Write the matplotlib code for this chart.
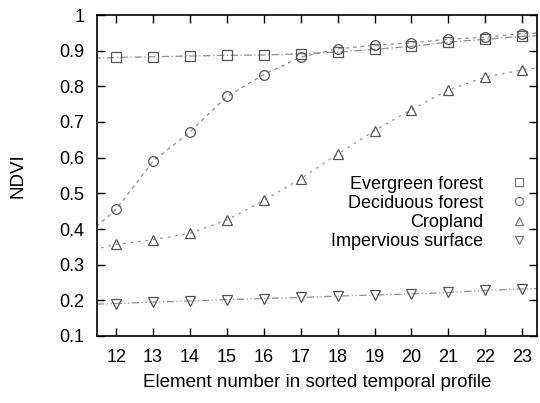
import numpy as np
import matplotlib
matplotlib.use('Agg')
import matplotlib.pyplot as plt

plt.rcParams['font.family'] = ['Liberation Sans', 'DejaVu Sans']

# elemento 11 e 24 solo per la linea che esce dal bordo
elementi = [11, 12, 13, 14, 15, 16, 17, 18, 19, 20, 21, 22, 23, 24]
evergreen = [0.877, 0.881, 0.883, 0.885, 0.887, 0.888, 0.891, 0.896, 0.904, 0.912, 0.924, 0.932, 0.940, 0.944]
deciduous = [0.365, 0.455, 0.590, 0.672, 0.772, 0.833, 0.882, 0.905, 0.915, 0.922, 0.932, 0.938, 0.948, 0.952]
cropland = [0.333, 0.357, 0.370, 0.388, 0.425, 0.480, 0.541, 0.610, 0.676, 0.735, 0.790, 0.826, 0.846, 0.860]
impervious = [0.188, 0.191, 0.195, 0.198, 0.202, 0.205, 0.208, 0.212, 0.215, 0.218, 0.222, 0.228, 0.232, 0.235]

serie = [
    ('Evergreen forest', evergreen, 's', (6, 2, 1, 2)),
    ('Deciduous forest', deciduous, 'o', (3, 3)),
    ('Cropland', cropland, '^', (2, 4)),
    ('Impervious surface', impervious, 'v', (6, 2, 1, 2, 1, 2)),
]

fig = plt.figure(figsize=(5.4, 4.03), dpi=100)
ax = fig.add_axes([97 / 540, 1 - 336 / 403, 440 / 540, 321 / 403])

for nome, y, m, d in serie:
    ax.plot(elementi, y, color='#909090', lw=0.9, dashes=d)
    ax.plot(elementi, y, ls='none', marker=m, ms=7, mfc='none', mec='#555555', mew=0.9, label=nome)

ax.set_xlim(11.48, 23.4)
ax.set_ylim(0.1, 1.0)
ax.set_xticks(range(12, 24))
ax.set_yticks(np.arange(0.1, 1.01, 0.1))
ax.set_yticklabels(['0.1', '0.2', '0.3', '0.4', '0.5', '0.6', '0.7', '0.8', '0.9', '1'])
ax.tick_params(direction='in', top=True, right=True, length=6, width=1, labelsize=13, pad=9)
for s in ax.spines.values():
    s.set_linewidth(1.2)

ax.set_xlabel('Element number in sorted temporal profile', fontsize=13.5, labelpad=6)
ax.set_ylabel('NDVI', fontsize=13.5, labelpad=24)

leg = ax.legend(loc='lower right', bbox_to_anchor=(0.997, 0.245), frameon=False, markerfirst=False,
                fontsize=13, handlelength=1.0, handletextpad=1.5, labelspacing=0.12, borderaxespad=0,
                markerscale=0.85)
for h in leg.legend_handles:
    h.set_markeredgecolor('#777777')

plt.savefig('out.png', dpi=100)
